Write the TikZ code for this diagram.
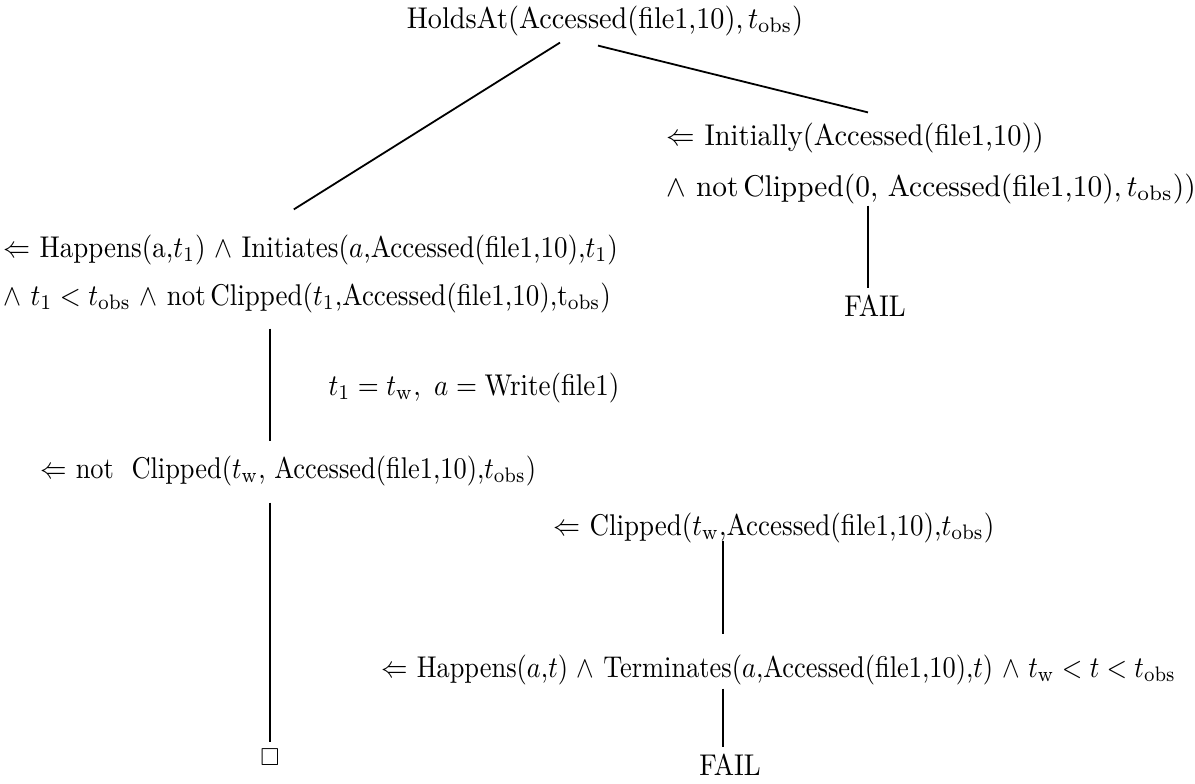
\documentclass[tikz,border=0pt]{standalone}
\usepackage{amssymb}
\usepackage{graphicx}
% condensed setting of a formula line
\newcommand\cx[2][0.9]{\scalebox{#1}[1]{#2}}
\begin{document}
\begin{tikzpicture}[x=0.3333pt,y=-0.3333pt,
  txt/.style={inner sep=0pt,text height=7.5pt,text depth=2.5pt,anchor=base west},
  edge/.style={line width=0.6pt}]
\useasboundingbox (0,0) rectangle (1195,783);
\def\obs{_{\mathrm{obs}}}
\def\tw{t_{\mathrm{w}}}

% goal
\node[txt,anchor=base] (top) at (605,28) {\cx[0.94]{HoldsAt(Accessed(file1,10),\,$t\obs$)}};

% right branch: initial state
\node[txt] (R1) at (666,145) {\cx[0.95]{$\Leftarrow$ Initially(Accessed(file1,10))}};
\node[txt] (R2) at (666,196) {\cx[0.98]{$\wedge$ not\,Clipped(0, Accessed(file1,10),\,$t\obs$))}};
\node[txt,anchor=base] (F1) at (875,316) {\cx{FAIL}};

% left branch: an initiating event
\node[txt] (L1) at (3,257) {\cx{$\Leftarrow$ Happens(a,$t_1$) $\wedge$ Initiates($a$,Accessed(file1,10),$t_1$)}};
\node[txt] (L2) at (3,305) {\cx{$\wedge$ $t_1<t\obs$ $\wedge$ not\,Clipped($t_1$,Accessed(file1,10),t$\obs$)}};
\node[txt] (lab) at (328,395) {\cx{$t_1=\tw,\ a=\mathrm{Write(file1)}$}};
\node[txt] (N) at (40,478) {\cx[0.88]{$\Leftarrow$ not\ \ Clipped($\tw$, Accessed(file1,10),$t\obs$)}};
\node[inner sep=0pt] (box) at (270,757) {\scalebox{0.82}{$\square$}};

% negation as failure: the clipping sub-derivation
\node[txt] (C) at (553,535) {\cx{$\Leftarrow$ Clipped($\tw$,Accessed(file1,10),$t\obs$)}};
\node[txt] (H) at (381,677) {\cx[0.88]{$\Leftarrow$ Happens($a$,$t$) $\wedge$ Terminates($a$,Accessed(file1,10),$t$) $\wedge$ $\tw<t<t\obs$}};
\node[txt,anchor=base] (F2) at (730,775) {\cx{FAIL}};

% connectors
\draw[edge] ([shift={(-45,6.5)}]top.south) -- ([shift={(-17,-24.5)}]L1.north);
\draw[edge] ([shift={(-7,9.5)}]top.south) -- ([shift={(-7,-9.5)}]R1.north -| F1.north);
\draw[edge] ([shift={(-7,1.5)}]R2.south -| F1.north) -- ([shift={(-7,-4.5)}]F1.north);
\draw[edge] ([shift={(0,15.5)}]L2.south -| box.north) -- ([shift={(0,-13.5)}]N.north -| box.north);
\draw[edge] ([shift={(0,16.5)}]N.south -| box.north) -- ([shift={(0,-6.5)}]box.north);
\draw[edge] ([shift={(-7,-2.5)}]C.south -| F2.north) -- ([shift={(-7,-19.5)}]H.north -| F2.north);
\draw[edge] ([shift={(-7,3.5)}]H.south -| F2.north) -- ([shift={(-7,-4.5)}]F2.north);
\end{tikzpicture}
\end{document}
